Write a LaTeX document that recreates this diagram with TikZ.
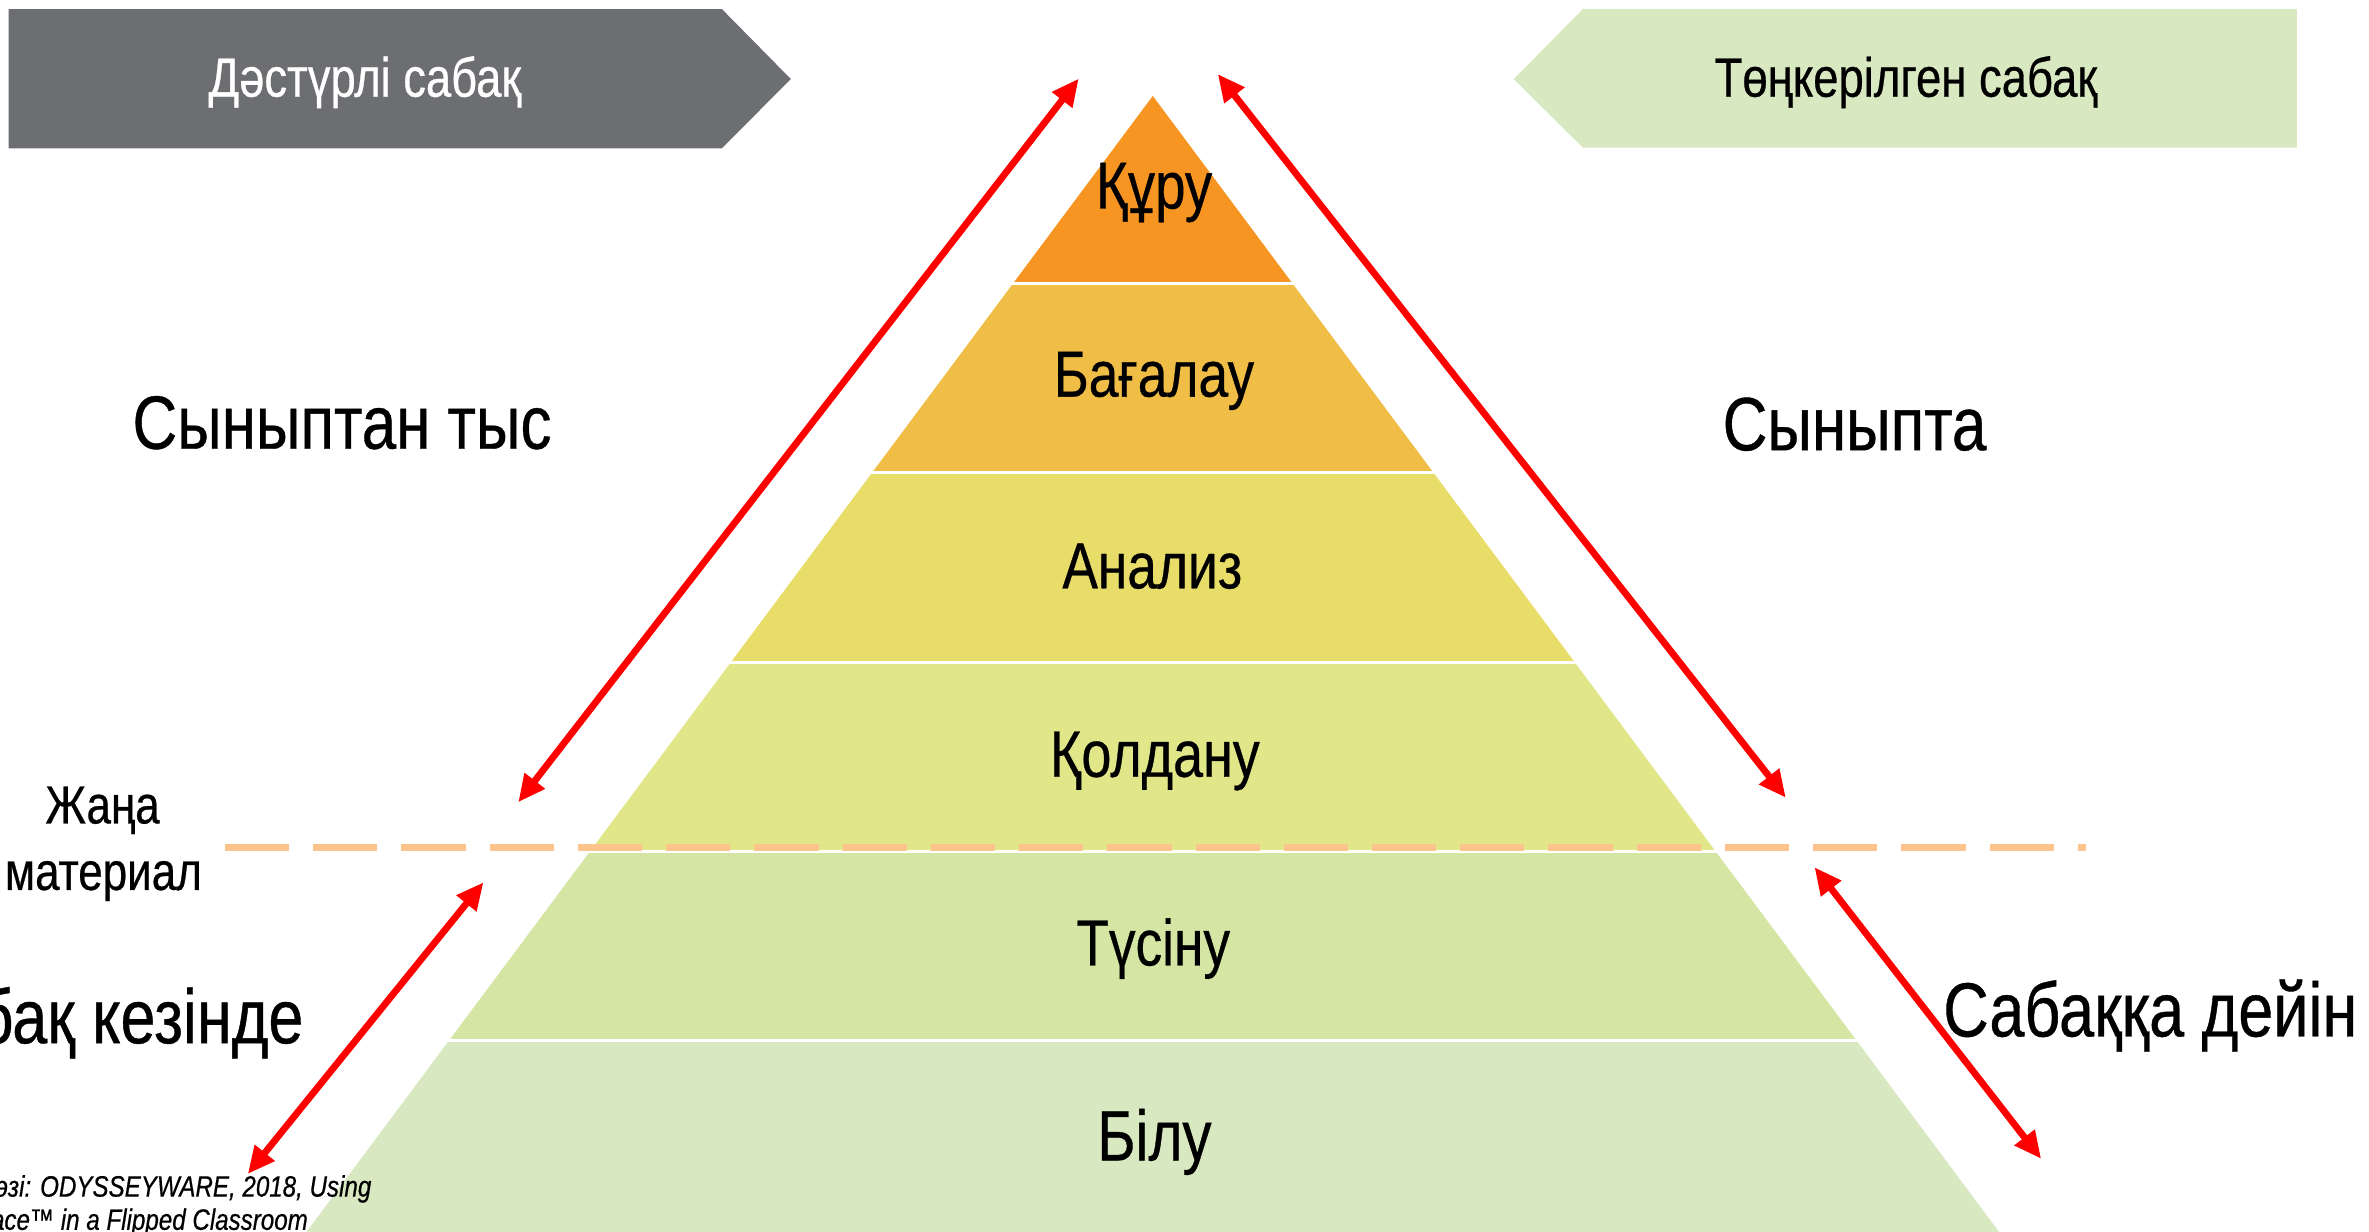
\documentclass[tikz,border=0pt]{standalone}
\usepackage{fontspec}
\setmainfont{Liberation Sans}[FakeStretch=0.82,FakeBold=0.5]
\usetikzlibrary{arrows.meta}
\definecolor{cGrey}{RGB}{109,110,113}
\definecolor{cGreenBox}{RGB}{216,233,193}
\definecolor{cL6}{RGB}{246,149,34}
\definecolor{cL5}{RGB}{240,190,70}
\definecolor{cL4}{RGB}{233,221,105}
\definecolor{cL3}{RGB}{225,230,137}
\definecolor{cL2}{RGB}{213,230,164}
\definecolor{cL1}{RGB}{216,232,192}
\definecolor{cDash}{RGB}{252,196,138}
\newcommand\setfs[1]{\fontsize{#1}{#1}\selectfont}
\begin{document}
\begin{tikzpicture}[x=1pt,y=-1pt,
  lbl/.style={inner sep=0pt, anchor=base, text=black},
  redarrow/.style={draw=red, line width=4.5pt, {Triangle[length=18pt,width=16pt]}-{Triangle[length=18pt,width=16pt]}},
  sep/.style={draw=white, line width=2pt},
  newline/.style={draw=cDash, line width=4.4pt, dash pattern=on 42.5pt off 15.9pt}]
\useasboundingbox (0,0) rectangle (1568,815.4);
\clip (0,0) rectangle (1568,815.4);
\fill[white] (0,0) rectangle (1568,815.4);

% header pentagons
\fill[cGrey] (5.7,6) -- (477.8,6) -- (523.4,52.3) -- (477.8,98.2) -- (5.7,98.2) -- cycle;
\fill[cGreenBox] (1001.9,52.3) -- (1047.7,6) -- (1520.3,6) -- (1520.3,97.7) -- (1047.7,97.7) -- cycle;
\node[lbl, text=white, font=\setfs{36.6}] (trad) at (241.5,64) {Дәстүрлі сабақ};
\node[lbl, font=\setfs{36.7}] (flip) at (1261.5,64) {Төңкерілген сабақ};

% pyramid bands
\fill[cL6] (763,63.5) -- (855.45,187.6) -- (670.55,187.6) -- cycle;
\fill[cL5] (670.55,187.6) -- (855.45,187.6) -- (948.73,312.8) -- (577.27,312.8) -- cycle;
\fill[cL4] (577.27,312.8) -- (948.73,312.8) -- (1042.38,438.5) -- (483.62,438.5) -- cycle;
\fill[cL3] (483.62,438.5) -- (1042.38,438.5) -- (1135.5,563.5) -- (390.5,563.5) -- cycle;
\fill[cL2] (390.5,563.5) -- (1135.5,563.5) -- (1228.63,688.5) -- (297.37,688.5) -- cycle;
\fill[cL1] (297.37,688.5) -- (1228.63,688.5) -- (1323.17,815.4) -- (202.83,815.4) -- cycle;
\foreach \yy in {187.6,312.8,438.5,563.5,688.5}
  \draw[sep] (150,\yy) -- (1400,\yy);

% pyramid labels
\node[lbl, font=\setfs{44}] (l6) at (763.9,138) {Құру};
\node[lbl, font=\setfs{43}] (l5) at (763.8,262.5) {Бағалау};
\node[lbl, font=\setfs{43}] (l4) at (762.7,389.4) {Анализ};
\node[lbl, font=\setfs{43.5}] (l3) at (764.4,514.1) {Қолдану};
\node[lbl, font=\setfs{43}] (l2) at (763.3,639) {Түсіну};
\node[lbl, font=\setfs{47}] (l1) at (764.1,768) {Білу};

% dashed new-material line
\coordinate (dA) at (148.9,561);
\coordinate (dB) at (1380.5,561);
\draw[newline] (dA) -- (dB);

% side labels
\node[lbl, anchor=base west, font=\setfs{50}] (outside) at (87.5,297) {Сыныптан тыс};
\node[lbl, anchor=base west, font=\setfs{50}] (inside) at (1140,298) {Сыныпта};
\node[lbl, anchor=base east, font=\setfs{50.8}] (during) at (201,690.5) {бақ кезінде};
\node[lbl, anchor=base west, font=\setfs{50.8}] (before) at (1286,686) {Сабаққа дейін};
\node[lbl, font=\setfs{35.5}] (newmat1) at (67.9,545) {Жаңа};
\node[lbl, font=\setfs{35.5}] (newmat2) at (68.4,589) {материал};

% citation
\node[lbl, anchor=base east, font=\setfs{19.5}\itshape] (cit1) at (246,792) {өзі: ODYSSEYWARE, 2018, Using};
\node[lbl, anchor=base east, font=\setfs{19.5}\itshape] (cit2) at (204,814) {ace™ in a Flipped Classroom};

% red arrows
\coordinate (a1s) at (343,531);
\coordinate (a1e) at (714,52);
\coordinate (a2s) at (806,49);
\coordinate (a2e) at (1182,528);
\coordinate (a3s) at (320,584);
\coordinate (a3e) at (164,777);
\coordinate (a4s) at (1201,574);
\coordinate (a4e) at (1351,767);
\draw[redarrow] (a1s) -- (a1e);
\draw[redarrow] (a2s) -- (a2e);
\draw[redarrow] (a3s) -- (a3e);
\draw[redarrow] (a4s) -- (a4e);
\end{tikzpicture}
\end{document}
